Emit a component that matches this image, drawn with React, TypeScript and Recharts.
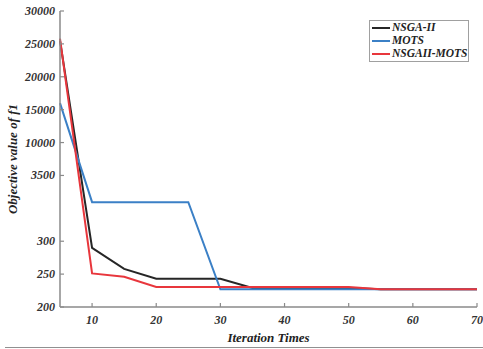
import React from 'react';
import { LineChart, Line, XAxis, YAxis, Legend, Label } from 'recharts';

const iterations = [5, 10, 15, 20, 25, 30, 35, 40, 45, 50, 55, 60, 65, 70];
const nsga2 = [25500, 290, 258, 243, 243, 243, 229, 229, 229, 229, 227, 227, 227, 227];
const mots = [16000, 2200, 2200, 2200, 2200, 227, 227, 227, 227, 227, 227, 227, 227, 227];
const nsgaMots = [25800, 251, 246, 230.5, 230.5, 230.5, 230.5, 230.5, 230.5, 230.5, 227, 227, 227, 227];

const yTickValues = [200, 250, 300, 3500, 10000, 15000, 20000, 25000, 30000];
const yTickSlots = [0, 1, 2, 4, 5, 6, 7, 8, 9];
const xTicks = [10, 20, 30, 40, 50, 60, 70];

const seriesNames = ['NSGA-II', 'MOTS', 'NSGAII-MOTS'];
const colors = ['#262626', '#3b80c6', '#e8363c'];

// piecewise mapping of the broken y axis
const toSlot = (v: number) => {
  for (let i = 0; i < yTickValues.length - 1; i++) {
    const a = yTickValues[i], b = yTickValues[i + 1];
    if (v <= b || i === yTickValues.length - 2) {
      return yTickSlots[i] + ((v - a) / (b - a)) * (yTickSlots[i + 1] - yTickSlots[i]);
    }
  }
  return 0;
};
const slotLabel = (s: number) => {
  const i = yTickSlots.indexOf(s);
  return i >= 0 ? String(yTickValues[i]) : '';
};

const data = iterations.map((it, i) => ({
  it,
  a: toSlot(nsga2[i]),
  b: toSlot(mots[i]),
  c: toSlot(nsgaMots[i]),
}));

const font = '"Liberation Serif", "Times New Roman", serif';
const axisColor = '#8a8a8a';

const XTick = (props: any) => {
  const { x, y, payload } = props;
  return (
    <g>
      <line x1={x} y1={y} x2={x} y2={y - 4} stroke={axisColor} strokeWidth={1.2} />
      <text x={x} y={y + 17} textAnchor="middle" fontFamily={font} fontWeight="bold" fontStyle="italic" fontSize={12} fill="#333">
        {payload.value}
      </text>
    </g>
  );
};

const YTick = (props: any) => {
  const { x, y, payload } = props;
  return (
    <g>
      <line x1={x} y1={y} x2={x + 4} y2={y} stroke={axisColor} strokeWidth={1.2} />
      <text x={x - 5} y={y + 4} textAnchor="end" fontFamily={font} fontWeight="bold" fontStyle="italic" fontSize={12} fill="#333">
        {slotLabel(payload.value)}
      </text>
    </g>
  );
};

const LegendBox = () => (
  <div
    style={{
      width: 98,
      height: 40,
      border: '1.5px solid #a0a0a0',
      background: '#fff',
      boxSizing: 'content-box',
      paddingTop: 0,
    }}
  >
    {seriesNames.map((n, i) => (
      <div key={n} style={{ display: 'flex', alignItems: 'center', height: 13, marginTop: i === 0 ? 0 : 0 }}>
        <div style={{ width: 18, height: 2, background: colors[i], marginLeft: 2, marginRight: 2 }} />
        <span
          style={{
            fontFamily: font,
            fontWeight: 'bold',
            fontStyle: 'italic',
            fontSize: 11.5,
            color: '#222',
            lineHeight: '13px',
          }}
        >
          {n}
        </span>
      </div>
    ))}
  </div>
);

export default function App() {
  return (
    <div style={{ position: 'absolute', left: 0, top: 0, width: 483, height: 349, background: '#fff' }}>
      <LineChart width={483} height={349} data={data} margin={{ top: 11, right: 6, bottom: 7, left: 0 }}>
        <XAxis
          dataKey="it"
          type="number"
          domain={[5, 70]}
          ticks={xTicks}
          tickSize={0}
          tickMargin={0}
          tick={<XTick />}
          tickLine={false}
          axisLine={{ stroke: axisColor, strokeWidth: 1.5 }}
          height={35}
          interval={0}
        >
          <Label
            value="Iteration Times"
            position="insideBottom"
            offset={0}
            style={{ fontFamily: font, fontWeight: 'bold', fontStyle: 'italic', fontSize: 13, fill: '#222' }}
          />
        </XAxis>
        <YAxis
          type="number"
          domain={[0, 9]}
          ticks={yTickSlots}
          tickSize={0}
          tickMargin={0}
          tick={<YTick />}
          tickLine={false}
          axisLine={{ stroke: axisColor, strokeWidth: 1.5 }}
          width={60}
          interval={0}
        >
          <Label
            value="Objective value of f1"
            angle={-90}
            position="insideLeft"
            offset={12}
            style={{ textAnchor: 'middle', fontFamily: font, fontWeight: 'bold', fontStyle: 'italic', fontSize: 13, fill: '#222' }}
          />
        </YAxis>
        <Legend
          layout="vertical"
          align="center"
          verticalAlign="middle"
          content={<LegendBox />}
          wrapperStyle={{ left: 369, top: 20, width: 101, height: 43 }}
        />
        <Line dataKey="a" name={seriesNames[0]} stroke={colors[0]} strokeWidth={2} dot={false} isAnimationActive={false} />
        <Line dataKey="b" name={seriesNames[1]} stroke={colors[1]} strokeWidth={2} dot={false} isAnimationActive={false} />
        <Line dataKey="c" name={seriesNames[2]} stroke={colors[2]} strokeWidth={2} dot={false} isAnimationActive={false} />
      </LineChart>
      <div style={{ position: 'absolute', left: 5, top: 347, width: 478, borderTop: '1.5px solid #909090' }} />
    </div>
  );
}
